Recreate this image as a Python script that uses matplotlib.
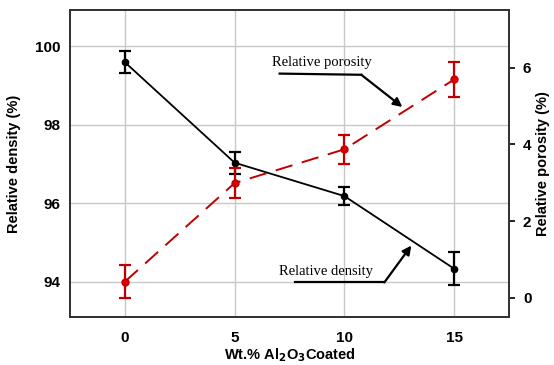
import matplotlib.pyplot as plt
import numpy as np

plt.rcParams['font.family'] = ['Liberation Sans', 'DejaVu Sans']

# wt.% Al2O3 coated
wt_pct = [0, 5, 10, 15]

# relative density (%) and error
density = [99.59, 97.03, 96.18, 94.33]
density_err = [0.28, 0.28, 0.23, 0.42]

# relative porosity (%) and error
porosity = [0.42, 2.99, 3.87, 5.69]
porosity_err = [0.43, 0.38, 0.37, 0.46]

x_ticks = [0, 5, 10, 15]
left_ticks = [94, 96, 98, 100]
right_ticks = [0, 2, 4, 6]

fig = plt.figure(figsize=(5.54, 3.65), dpi=100)
ax = fig.add_axes([70 / 554, 1 - 317 / 365, 439 / 554, 307 / 365])
ax2 = ax.twinx()

ax.set_xlim(-2.5, 17.5)
ax.set_ylim(93.1, 100.92)
ax2.set_ylim(-0.5, 7.5)

ax.grid(True, color='#c8c8c8', lw=1.0)
ax.set_axisbelow(True)

ax.errorbar(wt_pct, density, yerr=density_err, color='black', lw=1.3,
            marker='o', ms=4.5, capsize=4.5, capthick=1.6, elinewidth=1.6, zorder=3)
ax2.errorbar(wt_pct, porosity, yerr=porosity_err, color='#c00000', lw=1.4,
             ls=(0, (9, 5)), marker='o', ms=5, mfc='#dd0000', mec='#c00000',
             capsize=4.5, capthick=1.6, elinewidth=1.6, zorder=3)

ax.set_xticks(x_ticks)
ax.set_yticks(left_ticks)
ax2.set_yticks(right_ticks)
ax.tick_params(axis='x', length=0, labelsize=11, pad=10)
ax.tick_params(axis='y', length=0, labelsize=11, pad=7)
ax2.tick_params(axis='y', length=4, width=1.2, direction='out', labelsize=11, pad=6)
for lab in ax.get_xticklabels() + ax.get_yticklabels() + ax2.get_yticklabels():
    lab.set_fontweight('bold')

for sp in list(ax.spines.values()) + list(ax2.spines.values()):
    sp.set_color('#333333')
    sp.set_linewidth(1.3)

ax.set_xlabel('Wt.% Al$_\\mathbf{2}$O$_\\mathbf{3}$Coated', fontsize=10.5,
              fontweight='bold', labelpad=1)
ax.set_ylabel('Relative density (%)', fontsize=10.5, fontweight='bold', labelpad=10)
ax2.set_ylabel('Relative porosity (%)', fontsize=10.5, fontweight='bold', labelpad=3)

# annotations with bent arrows
serif = ['Liberation Serif', 'DejaVu Serif']
ax.text(8.98, 99.57, 'Relative porosity', fontsize=10.5, family=serif,
        ha='center', va='center')
ax.plot([7.05, 10.77], [99.3, 99.27], color='black', lw=1.6)
ax.annotate('', xy=(12.64, 98.45), xytext=(10.77, 99.27),
            arrowprops=dict(arrowstyle='-|>', color='black', lw=1.6,
                            mutation_scale=13, shrinkA=0, shrinkB=0))

ax.text(9.18, 94.26, 'Relative density', fontsize=10.5, family=serif,
        ha='center', va='center')
ax.plot([7.73, 11.82], [93.98, 93.98], color='black', lw=1.6)
ax.annotate('', xy=(13.05, 94.92), xytext=(11.82, 93.98),
            arrowprops=dict(arrowstyle='-|>', color='black', lw=1.6,
                            mutation_scale=13, shrinkA=0, shrinkB=0))

fig.savefig('out.png', dpi=100)
